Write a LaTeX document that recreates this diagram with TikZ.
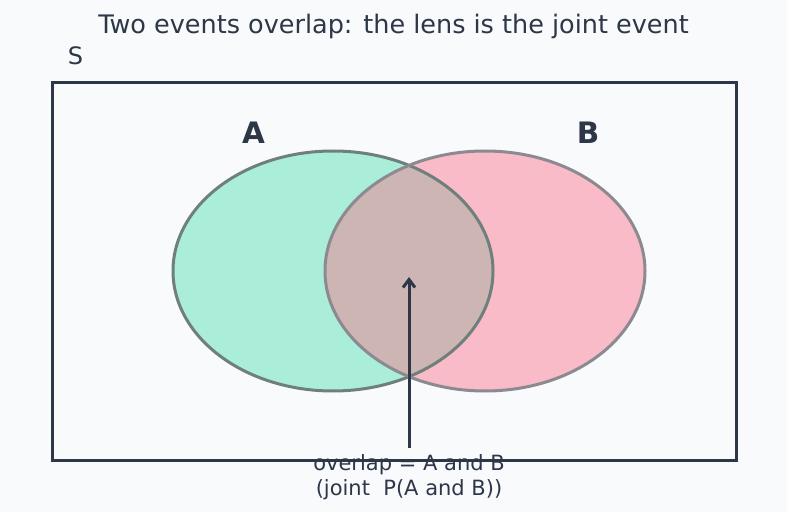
\documentclass[tikz,border=0pt]{standalone}
\usepackage{fontspec}
\setmainfont{DejaVu Sans}
\usetikzlibrary{arrows.meta}
\definecolor{bg}{HTML}{F8FAFC}
\definecolor{ink}{HTML}{2D3748}
\definecolor{mintA}{HTML}{AAEDD8}
\definecolor{pinkB}{HTML}{F8BBC7}
\definecolor{lens}{HTML}{CCB5B2}
\definecolor{edgeA}{HTML}{6F7F7C}
\definecolor{edgeB}{HTML}{8C8A90}
\tikzset{
  lbl/.style={text=ink, inner sep=0pt, anchor=base},
  setname/.style={lbl, font=\fontsize{29.5}{34}\selectfont\bfseries},
  notetext/.style={lbl, font=\fontsize{21}{25}\selectfont},
}
\begin{document}
\begin{tikzpicture}[x=1pt,y=1pt]
\fill[bg] (0,0) rectangle (787,512);
\useasboundingbox (0,0) rectangle (787,512);
% universe
\node[draw=ink, line width=3pt, minimum width=684pt, minimum height=377pt, inner sep=0pt] (S) at (394,240.5) {};
\node[lbl, font=\fontsize{24}{28}\selectfont] (Slbl) at (75.5,447) {S};
\node[lbl, font=\fontsize{25.5}{30}\selectfont] (title) at (393.5,478.7) {Two events overlap: the lens is the joint event};
% ellipses
\fill[mintA] (333,241) ellipse [x radius=160, y radius=120];
\fill[pinkB] (485,241) ellipse [x radius=160, y radius=120];
\begin{scope}
  \clip (333,241) ellipse [x radius=160, y radius=120];
  \fill[lens] (485,241) ellipse [x radius=160, y radius=120];
\end{scope}
\draw[edgeA, line width=3pt] (333,241) ellipse [x radius=160, y radius=120];
\draw[edgeB, line width=3pt] (485,241) ellipse [x radius=160, y radius=120];
\node[setname] (A) at (253.5,368.7) {A};
\node[setname] (B) at (588,368.7) {B};
% annotation
\coordinate (tip) at (409,235);
\coordinate (tail) at (409,64);
\node[notetext] (note1) at (409,42) {overlap = A and B};
\node[notetext] (note2) at (409,17) {(joint\ \ P(A and B))};
\draw[ink, line width=3pt, -{Straight Barb[length=8pt,width=12pt,line width=3pt]}] (tail) -- (tip);
\end{tikzpicture}
\end{document}
